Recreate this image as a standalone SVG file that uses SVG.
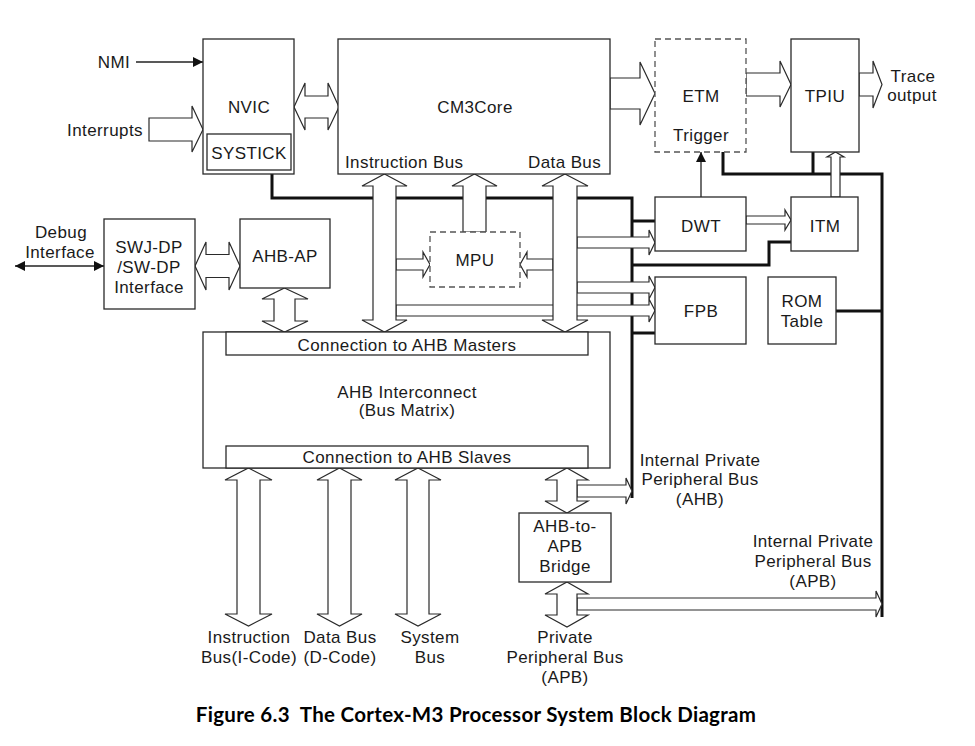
<svg xmlns="http://www.w3.org/2000/svg" width="975" height="746" viewBox="0 0 975 746">
<style>
.bg{fill:#fff}
.box{fill:#fff;stroke:#2a2a2a;stroke-width:1.3}
.dash{fill:#fff;stroke:#555;stroke-width:1.3;stroke-dasharray:6,4}
.ar{fill:#fff;stroke:#2a2a2a;stroke-width:1.2;stroke-linejoin:miter}
.thick{fill:none;stroke:#111;stroke-width:3}
.thin{fill:none;stroke:#222;stroke-width:1.3}
text{font-family:"Liberation Sans",Arial,sans-serif;font-size:17px;letter-spacing:0.4px;fill:#1a1a1a;text-anchor:middle}
.l{text-anchor:start}
.title{font-family:Lato,"Open Sans",sans-serif;font-weight:bold;font-size:20.5px;letter-spacing:0.3px;fill:#000}
</style>
<defs>
<marker id="ah" viewBox="0 0 10 10" refX="10" refY="5" markerWidth="10" markerHeight="10" markerUnits="userSpaceOnUse" orient="auto-start-reverse">
<path d="M0,0 L10,5 L0,10 z" fill="#111"/>
</marker>
</defs>
<rect class="bg" x="0" y="0" width="975" height="746"/>

<g id="connectors">
<path class="thick" d="M272,174 V198 H632 V498"/>
<path class="thick" d="M632,221 H655"/>
<path class="thick" d="M632,265 H769 V242 H791"/>
<path class="thick" d="M632,333 H655"/>
<path class="thick" d="M723,152 V174 H882 V617"/>
<path class="thick" d="M813,152 V174"/>
<path class="thick" d="M836,311 H882"/>
<line class="thin" x1="136" y1="62" x2="203" y2="62" marker-end="url(#ah)"/>
<line class="thin" x1="701" y1="197" x2="701" y2="152" marker-end="url(#ah)"/>
<line class="thin" x1="15" y1="266" x2="104" y2="266" marker-start="url(#ah)" marker-end="url(#ah)"/>
<polygon class="ar" points="149,118 192,118 192,106 203,129.5 192,152 192,141 149,141"/>
<polygon class="ar" points="294,107 305,83 305,96 328,96 328,83 339,107 328,130 328,118 305,118 305,130"/>
<polygon class="ar" points="610,78 640,78 640,62 655,93.5 640,125 640,109 610,109"/>
<polygon class="ar" points="746,73 780,73 780,61 791,84.5 780,107 780,96 746,96"/>
<polygon class="ar" points="859,73 873,73 873,61 882,84.5 873,108 873,96 859,96"/>
<polygon class="ar" points="195,266 206,242 206,254.5 229,254.5 229,242 240,266 229,290 229,277.5 206,277.5 206,290"/>
<polygon class="ar" points="284.5,288 308,299 295,299 295,321 308,321 284.5,332 262,321 274,321 274,299 262,299"/>
<polygon class="ar" points="396,305 649,305 649,299 655,310.5 649,322 649,316 396,316"/>
<polygon class="ar" points="577,237 649,237 649,230 655,242.5 649,255 649,248 577,248"/>
<polygon class="ar" points="577,282 649,282 649,276 655,287.5 649,299 649,293 577,293"/>
<polygon class="ar" points="396,259 423,259 423,252 430,264.5 423,277 423,270 396,270"/>
<polygon class="ar" points="553,259 527,259 527,252 520,264.5 527,277 527,270 553,270"/>
<polygon class="ar" points="384.5,174 407,186 396,186 396,320 407,320 384.5,332 362,320 373,320 373,186 362,186"/>
<polygon class="ar" points="565,174 588,186 577,186 577,320 588,320 565,332 542,320 553,320 553,186 542,186"/>
<polygon class="ar" points="463,232 463,186 452,186 474.5,174 497,186 486,186 486,232"/>
<polygon class="ar" points="746,216 785,216 785,210 791,220 785,230 785,224 746,224"/>
<polygon class="ar" points="831,197 831,157 827,157 835.5,152 844,157 840,157 840,197"/>
<polygon class="ar" points="248.5,468 272,480 260,480 260,614 272,614 248.5,626 225,614 237,614 237,480 225,480"/>
<polygon class="ar" points="339.5,468 362,480 351,480 351,614 362,614 339.5,626 317,614 328,614 328,480 317,480"/>
<polygon class="ar" points="418,468 441,480 429,480 429,614 441,614 418,626 395,614 407,614 407,480 395,480"/>
<polygon class="ar" points="577,485 626,485 626,478 632,491 626,504 626,497 577,497"/>
<polygon class="ar" points="577,598 876,598 876,591 882,604 876,617 876,610 577,610"/>
<polygon class="ar" points="567,468 588,480 577,480 577,501 588,501 567,513 545,501 557,501 557,480 545,480"/>
<polygon class="ar" points="567,582 588,594 577,594 577,615 588,615 567,627 545,615 557,615 557,594 545,594"/>
</g>

<g id="labels">
<text x="114" y="68">NMI</text>
<text x="105" y="136">Interrupts</text>
<text x="61" y="238">Debug</text>
<text x="60" y="258">Interface</text>
<text x="913" y="82">Trace</text>
<text x="912" y="101">output</text>
<text x="700" y="466">Internal Private</text>
<text x="700" y="485">Peripheral Bus</text>
<text x="700" y="505">(AHB)</text>
<text x="813" y="547">Internal Private</text>
<text x="813" y="567">Peripheral Bus</text>
<text x="813" y="587">(APB)</text>
<text x="249" y="643">Instruction</text>
<text x="249" y="663">Bus(I-Code)</text>
<text x="340" y="643">Data Bus</text>
<text x="340" y="663">(D-Code)</text>
<text x="430" y="643">System</text>
<text x="430" y="663">Bus</text>
<text x="565" y="643">Private</text>
<text x="565" y="663">Peripheral Bus</text>
<text x="565" y="683">(APB)</text>
</g>

<g id="nvic">
<rect class="box" x="203" y="39" width="91" height="135"/>
<text x="249" y="113">NVIC</text>
</g>
<g id="systick">
<rect class="box" x="207" y="134" width="84" height="36"/>
<text x="249" y="159">SYSTICK</text>
</g>
<g id="cm3core">
<rect class="box" x="338" y="39" width="272" height="135"/>
<text x="475" y="113">CM3Core</text>
<text class="l" x="345" y="168">Instruction Bus</text>
<text class="l" x="528" y="168">Data Bus</text>
</g>
<g id="etm">
<rect class="dash" x="655" y="39" width="91" height="113"/>
<text x="701" y="102">ETM</text>
<text x="701" y="141">Trigger</text>
</g>
<g id="tpiu">
<rect class="box" x="791" y="39" width="68" height="113"/>
<text x="825" y="102">TPIU</text>
</g>
<g id="swjdp">
<rect class="box" x="104" y="219" width="91" height="90"/>
<text x="149" y="253">SWJ-DP</text>
<text x="149" y="273">/SW-DP</text>
<text x="149" y="293">Interface</text>
</g>
<g id="ahbap">
<rect class="box" x="240" y="219" width="90" height="69"/>
<text x="285" y="262">AHB-AP</text>
</g>
<g id="mpu">
<rect class="dash" x="430" y="232" width="90" height="55"/>
<text x="475" y="266">MPU</text>
</g>
<g id="dwt">
<rect class="box" x="655" y="197" width="91" height="54"/>
<text x="701" y="232">DWT</text>
</g>
<g id="itm">
<rect class="box" x="791" y="197" width="67" height="54"/>
<text x="825" y="232">ITM</text>
</g>
<g id="fpb">
<rect class="box" x="655" y="277" width="91" height="67"/>
<text x="701" y="317">FPB</text>
</g>
<g id="romtable">
<rect class="box" x="768" y="277" width="68" height="67"/>
<text x="802" y="307">ROM</text>
<text x="802" y="327">Table</text>
</g>
<g id="ahb-interconnect">
<rect class="box" x="203" y="332" width="407" height="136"/>
<text x="407" y="398">AHB Interconnect</text>
<text x="407" y="416">(Bus Matrix)</text>
</g>
<g id="ahb-masters">
<rect class="box" x="226" y="332" width="362" height="23"/>
<text x="407" y="351">Connection to AHB Masters</text>
</g>
<g id="ahb-slaves">
<rect class="box" x="226" y="446" width="362" height="22"/>
<text x="407" y="463">Connection to AHB Slaves</text>
</g>
<g id="bridge">
<rect class="box" x="519" y="513" width="92" height="69"/>
<text x="565" y="532">AHB-to-</text>
<text x="565" y="552">APB</text>
<text x="565" y="572">Bridge</text>
</g>

<text class="title" x="476" y="722">Figure 6.3&#160; The Cortex-M3 Processor System Block Diagram</text>
</svg>
